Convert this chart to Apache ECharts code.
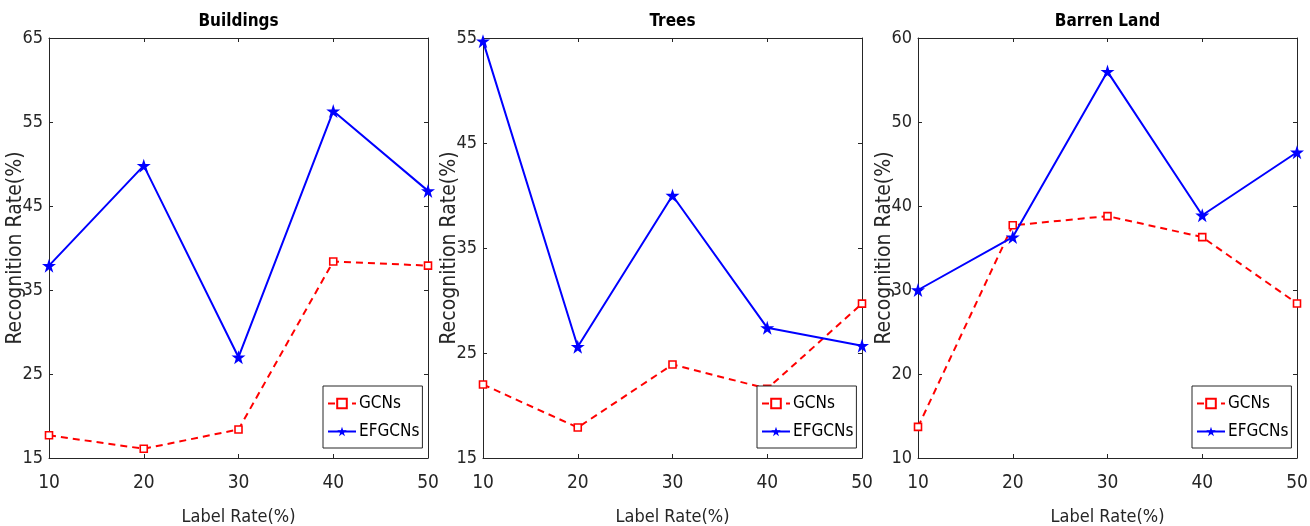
<!DOCTYPE html>
<html>
<head>
<meta charset="utf-8">
<script src="https://cdn.jsdelivr.net/npm/echarts@6/dist/echarts.min.js"></script>
<style>
  html, body { margin: 0; padding: 0; background: #fff; }
  #chart { width: 1310px; height: 526px; }
</style>
</head>
<body>
<div id="chart"></div>
<script>
// Label rates shared by all three panels
const labelRates = [10, 20, 30, 40, 50];

// Panel titles and y ranges
const panelTitles = ['Buildings', 'Trees', 'Barren Land'];
const yMins = [15, 15, 10];
const yMaxs = [65, 55, 60];

// Recognition rates (%) per class
const gcnsBuildings   = [17.7, 16.1, 18.4, 38.4, 37.9];
const efgcnsBuildings = [37.9, 49.8, 27.0, 56.3, 46.8];
const gcnsTrees       = [22.0, 17.9, 23.9, 21.6, 29.7];
const efgcnsTrees     = [54.7, 25.6, 40.0, 27.4, 25.7];
const gcnsBarren      = [13.7, 37.7, 38.8, 36.3, 28.4];
const efgcnsBarren    = [30.0, 36.3, 56.0, 38.9, 46.4];

const gcnsData = [gcnsBuildings, gcnsTrees, gcnsBarren];
const efgcnsData = [efgcnsBuildings, efgcnsTrees, efgcnsBarren];

const FONT = "'DejaVu Sans Condensed', 'Liberation Sans', Arial, sans-serif";
const AXIS_COLOR = '#262626';

const gridLefts = [49, 483, 918];
const gridWidth = 379;
const gridTop = 38;
const gridHeight = 420;

const grids = [], xAxes = [], yAxes = [], series = [], titles = [], legends = [];

gridLefts.forEach((left, i) => {
  grids.push({
    left: left, top: gridTop, width: gridWidth, height: gridHeight,
    outerBoundsMode: 'none', containLabel: false
  });

  titles.push({
    text: panelTitles[i],
    left: left + gridWidth / 2,
    top: 13,
    padding: 0,
    textAlign: 'center',
    textStyle: { fontFamily: FONT, fontWeight: 'bold', fontSize: 17, color: '#000' }
  });

  const xBase = {
    type: 'value', gridIndex: i, min: 10, max: 50, interval: 10,
    axisLine: { show: true, onZero: false, lineStyle: { color: AXIS_COLOR, width: 1 } },
    axisTick: { show: true, inside: true, length: 4, lineStyle: { color: AXIS_COLOR } },
    splitLine: { show: false }
  };
  xAxes.push(Object.assign({}, xBase, {
    position: 'bottom',
    name: 'Label Rate(%)', nameLocation: 'middle', nameGap: 50, nameMoveOverlap: false,
    nameTextStyle: { fontFamily: FONT, fontSize: 18, color: '#262626' },
    axisLabel: { fontFamily: FONT, fontSize: 19, color: '#262626', margin: 16 }
  }));
  xAxes.push(Object.assign({}, xBase, { position: 'top', axisLabel: { show: false } }));

  const yBase = {
    type: 'value', gridIndex: i, min: yMins[i], max: yMaxs[i], interval: 10,
    axisLine: { show: true, onZero: false, lineStyle: { color: AXIS_COLOR, width: 1 } },
    axisTick: { show: true, inside: true, length: 4, lineStyle: { color: AXIS_COLOR } },
    splitLine: { show: false }
  };
  yAxes.push(Object.assign({}, yBase, {
    position: 'left',
    name: 'Recognition Rate(%)', nameLocation: 'middle', nameGap: 23, nameMoveOverlap: false,
    nameTextStyle: { fontFamily: FONT, fontSize: 21, color: '#262626' },
    axisLabel: { fontFamily: FONT, fontSize: 18, color: '#262626', margin: 6 }
  }));
  yAxes.push(Object.assign({}, yBase, { position: 'right', axisLabel: { show: false } }));

  series.push({
    name: 'GCNs', type: 'line', xAxisIndex: 2 * i, yAxisIndex: 2 * i,
    data: labelRates.map((x, k) => [x, gcnsData[i][k]]),
    symbol: 'rect', symbolSize: 7,
    itemStyle: { color: '#fff', borderColor: '#ff0000', borderWidth: 1.6 },
    lineStyle: { color: '#ff0000', width: 2, type: [7, 5] },
    z: 3
  });
  series.push({
    name: 'EFGCNs', type: 'line', xAxisIndex: 2 * i, yAxisIndex: 2 * i,
    data: labelRates.map((x, k) => [x, efgcnsData[i][k]]),
    symbol: 'path://M50,0 L61.8,35.4 L99,35.4 L69,57.3 L80.3,92.7 L50,70.8 L19.7,92.7 L31,57.3 L1,35.4 L38.2,35.4 Z',
    symbolSize: 14,
    itemStyle: { color: '#0000ff' },
    lineStyle: { color: '#0000ff', width: 2 },
    z: 4
  });

  legends.push({
    data: ['GCNs', 'EFGCNs'],
    orient: 'vertical',
    left: left + gridWidth - 105,
    top: 386,
    itemWidth: 28, itemHeight: 12, itemGap: 11,
    padding: [9, 3, 8, 4],
    backgroundColor: '#fff',
    borderColor: '#262626', borderWidth: 1, borderRadius: 0,
    selectedMode: false,
    textStyle: { fontFamily: FONT, fontSize: 17, color: '#000', padding: [0, 0, 0, -2] }
  });
});

const chart = echarts.init(document.getElementById('chart'), null, { renderer: 'canvas' });
chart.setOption({
  animation: false,
  backgroundColor: '#fff',
  title: titles,
  legend: legends,
  grid: grids,
  xAxis: xAxes,
  yAxis: yAxes,
  series: series
});
</script>
</body>
</html>
